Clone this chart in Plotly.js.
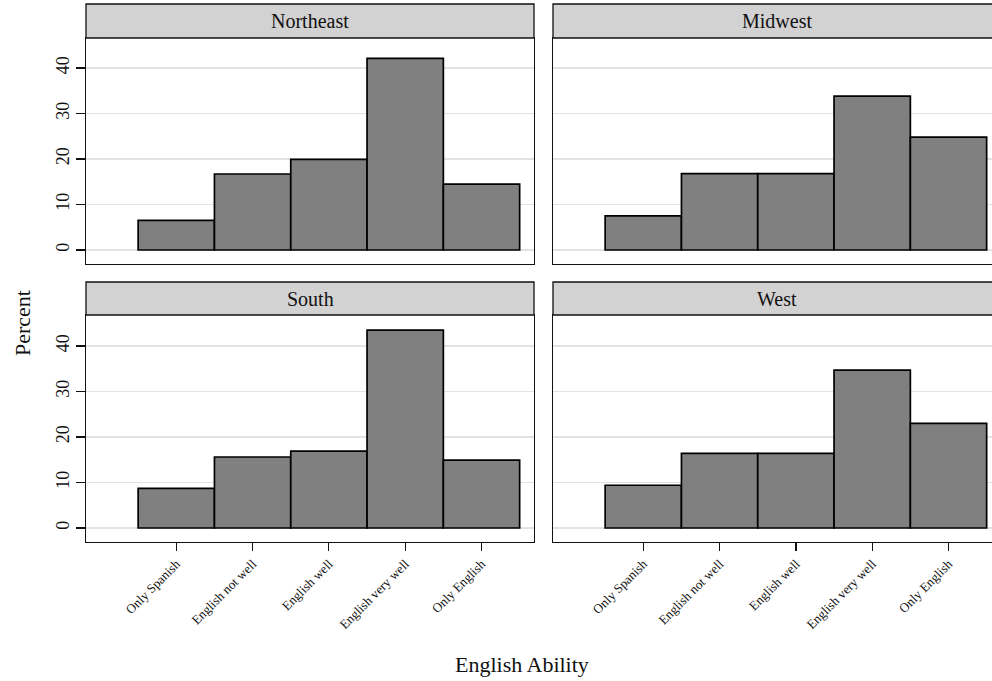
<!DOCTYPE html>
<html>
<head>
<meta charset="utf-8">
<script src="https://cdn.plot.ly/plotly-3.0.1.min.js"></script>
<style>
  html, body { margin: 0; padding: 0; background: #fff; overflow: hidden; }
  #chart { width: 992px; height: 681px; }
</style>
</head>
<body>
<div id="chart"></div>
<script>
// English ability categories (x axis)
const abilityLevels = ['Only Spanish', 'English not well', 'English well', 'English very well', 'Only English'];

// Percent of respondents in each category, by census region
const regionNames = ['Northeast', 'Midwest', 'South', 'West'];
const northeast = [6.5, 16.7, 19.9, 42.1, 14.5];
const midwest   = [7.5, 16.8, 16.8, 33.8, 24.8];
const south     = [8.7, 15.6, 16.9, 43.5, 14.9];
const west      = [9.4, 16.4, 16.4, 34.7, 23.0];

const yTicks = [0, 10, 20, 30, 40];

const W = 992, H = 681;
const serif = 'Liberation Serif, Times New Roman, Times, serif';
const px = v => v / W;
const py = v => 1 - v / H;

// panel geometry in pixels
const panels = [
  { name: regionNames[0], vals: northeast, x0: 86,  x1: 534, top: 38,  bot: 264, strip: 4,   row: 0, col: 0 },
  { name: regionNames[1], vals: midwest,   x0: 553, x1: 992, top: 38,  bot: 264, strip: 4,   row: 0, col: 1 },
  { name: regionNames[2], vals: south,     x0: 86,  x1: 534, top: 315, bot: 542, strip: 282, row: 1, col: 0 },
  { name: regionNames[3], vals: west,      x0: 553, x1: 992, top: 315, bot: 542, strip: 282, row: 1, col: 1 }
];

const traces = [];
const layout = {
  width: W, height: H,
  margin: { l: 0, r: 0, t: 0, b: 0, pad: 0 },
  paper_bgcolor: '#ffffff',
  plot_bgcolor: '#ffffff',
  showlegend: false,
  bargap: 0,
  font: { family: serif, color: '#000' },
  shapes: [],
  annotations: []
};

panels.forEach((p, i) => {
  const n = i + 1;
  const xa = n === 1 ? 'x' : 'x' + n;
  const ya = n === 1 ? 'y' : 'y' + n;
  const xKey = n === 1 ? 'xaxis' : 'xaxis' + n;
  const yKey = n === 1 ? 'yaxis' : 'yaxis' + n;

  traces.push({
    type: 'bar',
    x: abilityLevels,
    y: p.vals,
    xaxis: xa, yaxis: ya,
    width: 1,
    marker: { color: '#808080', line: { color: '#000', width: 1.7 } },
    hoverinfo: 'x+y'
  });

  // category units: one bar = 76.3 px, first bar centred 90 px from the left edge
  const unit = 76.3;
  const lo = -(90.3 / unit);
  const hi = lo + (p.x1 - p.x0) / unit;

  layout[xKey] = {
    domain: [px(p.x0), px(p.x1)],
    anchor: ya,
    type: 'category',
    categoryorder: 'array',
    categoryarray: abilityLevels,
    range: [lo, hi],
    showgrid: false,
    zeroline: false,
    showline: true, mirror: true,
    linecolor: '#111', linewidth: 1.3,
    ticks: p.row === 1 ? 'outside' : '',
    ticklen: 8, tickwidth: 1.2, tickcolor: '#111',
    showticklabels: p.row === 1,
    tickangle: -45,
    tickfont: { family: serif, size: 13, color: '#111' },
    fixedrange: true
  };

  // y range: 0 sits 14 px above the plot bottom, 10 units = 45.5 px
  const perUnit = 4.55;
  const yLo = -(14 / perUnit);
  const yHi = yLo + (p.bot - p.top) / perUnit;

  layout[yKey] = {
    domain: [py(p.bot), py(p.top)],
    anchor: xa,
    range: [yLo, yHi],
    tickvals: yTicks,
    ticktext: yTicks.map(String),
    showgrid: true, gridcolor: '#e2e2e2', gridwidth: 1.5,
    zeroline: false,
    showline: true, mirror: true,
    linecolor: '#111', linewidth: 1.3,
    ticks: p.col === 0 ? 'outside' : '',
    ticklen: 9, tickwidth: 1.2, tickcolor: '#111',
    showticklabels: p.col === 0,
    tickangle: -90,
    tickfont: { family: serif, size: 18, color: '#111' },
    fixedrange: true
  };

  // strip header above each panel
  layout.shapes.push({
    type: 'rect', xref: 'paper', yref: 'paper',
    x0: px(p.x0), x1: px(p.x1) + (p.col === 1 ? 0.01 : 0),
    y0: py(p.top), y1: py(p.strip),
    fillcolor: '#d2d2d2',
    line: { color: '#111', width: 1.3 },
    layer: 'above'
  });
  layout.annotations.push({
    xref: 'paper', yref: 'paper',
    x: px((p.x0 + (p.col === 1 ? 1001 : p.x1)) / 2),
    y: py((p.top + p.strip) / 2),
    text: p.name, showarrow: false,
    xanchor: 'center', yanchor: 'middle',
    font: { family: serif, size: 20, color: '#111' }
  });
});

// overall axis titles
layout.annotations.push({
  xref: 'paper', yref: 'paper',
  x: px(22), y: py(323),
  text: 'Percent', showarrow: false, textangle: -90,
  xanchor: 'center', yanchor: 'middle',
  font: { family: serif, size: 22, color: '#111' }
});
layout.annotations.push({
  xref: 'paper', yref: 'paper',
  x: px(522), y: py(664),
  text: 'English Ability', showarrow: false,
  xanchor: 'center', yanchor: 'middle',
  font: { family: serif, size: 22, color: '#111' }
});

Plotly.newPlot('chart', traces, layout, { displayModeBar: false, staticPlot: true });
</script>
</body>
</html>
